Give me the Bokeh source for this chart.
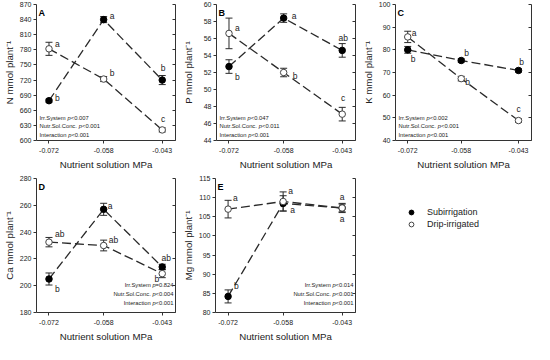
from bokeh.plotting import figure
from bokeh.models import (ColumnDataSource, Whisker, TeeHead, FixedTicker, LinearAxis,
                          Label, Legend, LegendItem, Range1d)
from bokeh.layouts import row, column
from bokeh.embed import file_html
from bokeh.resources import INLINE
from bokeh.core.properties import value

FONT = "Liberation Sans"

# ---------------- data ----------------
nutrient_mpa = [-0.072, -0.058, -0.043]
nutrient_tick_labels = ["-0.072", "-0.058", "-0.043"]
x_axis_title = "Nutrient solution MPa"
series_names = ["Subirrigation", "Drip-irrigated"]

# A: N
n_sub = [679, 840, 720]
n_sub_se = [3, 6, 9]
n_drip = [782, 722, 621]
n_drip_se = [13, 5, 4]
n_sub_letters = ["b", "a", "b"]
n_drip_letters = ["a", "b", "c"]
n_ticks = [600, 630, 660, 690, 720, 750, 780, 810, 840, 870]
n_stats = [("Irr.System ", "<0.007"), ("Nutr.Sol.Conc. ", "<0.001"), ("Interaction ", "<0.001")]

# B: P
p_sub = [52.7, 58.4, 54.6]
p_sub_se = [0.8, 0.5, 0.8]
p_drip = [56.6, 52.0, 47.1]
p_drip_se = [1.8, 0.5, 0.8]
p_sub_letters = ["b", "a", "ab"]
p_drip_letters = ["a", "b", "c"]
p_ticks = [44, 46, 48, 50, 52, 54, 56, 58, 60]
p_stats = [("Irr.System ", "<0.047"), ("Nutr.Sol.Conc. ", "<0.011"), ("Interaction ", "<0.001")]

# C: K
k_sub = [80.0, 75.3, 70.9]
k_sub_se = [1.5, 0.7, 0.7]
k_drip = [85.7, 67.3, 48.8]
k_drip_se = [2.5, 1.0, 0.8]
k_sub_letters = ["b", "b", "b"]
k_drip_letters = ["a", "b", "c"]
k_ticks = [40, 50, 60, 70, 80, 90, 100]
k_stats = [("Irr.System ", "<0.002"), ("Nutr.Sol.Conc. ", "<0.001"), ("Interaction ", "<0.001")]

# D: Ca
ca_sub = [205, 257, 214]
ca_sub_se = [4.5, 4.5, 2.0]
ca_drip = [232.5, 230, 209]
ca_drip_se = [3.5, 4.0, 3.0]
ca_sub_letters = ["b", "a", "ab"]
ca_drip_letters = ["ab", "ab", "b"]
ca_ticks = [180, 200, 220, 240, 260, 280]
ca_stats = [("Irr.System ", "=0.824"), ("Nutr.Sol.Conc. ", "<0.004"), ("Interaction ", "<0.001")]

# E: Mg
mg_sub = [84.2, 108.5, 107.3]
mg_sub_se = [1.7, 2.0, 1.0]
mg_drip = [107.0, 109.0, 107.3]
mg_drip_se = [2.3, 2.5, 1.2]
mg_sub_letters = ["b", "a", "a"]
mg_drip_letters = ["a", "a", "a"]
mg_ticks = [80, 85, 90, 95, 100, 105, 110, 115]
mg_stats = [("Irr.System ", "<0.014"), ("Nutr.Sol.Conc. ", "<0.001"), ("Interaction ", "<0.001")]

# ---------------- styles ----------------
AXIS_COLOR = "#333333"
TEXT_COLOR = "#222222"
LINE_COLOR = "#2a2a2a"
X_RANGE = (-0.0752, -0.0396)

AW = {' ': 278, '.': 278, '<': 584, '=': 584, '-': 333, 'I': 278, 'N': 722, 'S': 667,
      'C': 722, 'r': 333, 'y': 500, 's': 500, 't': 278, 'e': 556, 'm': 833, 'u': 556,
      'o': 556, 'l': 222, 'n': 556, 'c': 500, 'a': 556, 'i': 222, 'p': 556}


def tw(s, fs):
    return sum(AW.get(ch, 556) for ch in s) * fs / 1000.0


STAT_FS = 5.8

# letter label offsets (dx, dy screen px, dy positive = down), align
panels = [
    dict(tag="A", ylabel="N mmol plant\u207b\u00b9", yr=(600, 870), ticks=n_ticks,
         sub=n_sub, sub_se=n_sub_se, drip=n_drip, drip_se=n_drip_se,
         sub_let=n_sub_letters, drip_let=n_drip_letters, stats=n_stats, stats_side="left",
         sub_off=[(6, -3, "left"), (6, -4, "left"), (1, -12, "center")],
         drip_off=[(6, -5, "left"), (6, -6, "left"), (1, -11, "center")],
         width=179, bl=30, br=4, label_standoff=2, top=True),
    dict(tag="B", ylabel="P mmol plant\u207b\u00b9", yr=(44, 60), ticks=p_ticks,
         sub=p_sub, sub_se=p_sub_se, drip=p_drip, drip_se=p_drip_se,
         sub_let=p_sub_letters, drip_let=p_drip_letters, stats=p_stats, stats_side="left",
         sub_off=[(6, 10, "left"), (8, -2, "left"), (1, -12, "center")],
         drip_off=[(6, -5, "left"), (9, 3, "left"), (1, -16, "center")],
         width=180, bl=30, br=4, label_standoff=7, top=True),
    dict(tag="C", ylabel="K mmol plant\u207b\u00b9", yr=(40, 100), ticks=k_ticks,
         sub=k_sub, sub_se=k_sub_se, drip=k_drip, drip_se=k_drip_se,
         sub_let=k_sub_letters, drip_let=k_drip_letters, stats=k_stats, stats_side="left",
         sub_off=[(3, 9, "left"), (3, -7, "left"), (3, -8, "center")],
         drip_off=[(4, -4, "left"), (4, 3, "left"), (0, -12, "center")],
         width=175, bl=31, br=3, label_standoff=2, top=True),
    dict(tag="D", ylabel="Ca mmol plant\u207b\u00b9", yr=(180, 280), ticks=ca_ticks,
         sub=ca_sub, sub_se=ca_sub_se, drip=ca_drip, drip_se=ca_drip_se,
         sub_let=ca_sub_letters, drip_let=ca_drip_letters, stats=ca_stats, stats_side="right",
         sub_off=[(6, 10, "left"), (4, -3, "left"), (4, -9, "center")],
         drip_off=[(6, -8, "left"), (5, -6, "left"), (-3, 5, "right")],
         width=179, bl=30, br=4, label_standoff=2, top=False),
    dict(tag="E", ylabel="Mg mmol plant\u207b\u00b9", yr=(80, 115), ticks=mg_ticks,
         sub=mg_sub, sub_se=mg_sub_se, drip=mg_drip, drip_se=mg_drip_se,
         sub_let=mg_sub_letters, drip_let=mg_drip_letters, stats=mg_stats, stats_side="right",
         sub_off=[(6, -10, "left"), (7, 7, "left"), (0, 11, "center")],
         drip_off=[(5, -11, "left"), (5, -10, "left"), (0, -11, "center")],
         width=180, bl=30, br=4, label_standoff=2, top=False),
]

ROW_H = 172


def make_panel(cfg):
    top = cfg["top"]
    p = figure(width=cfg["width"], height=ROW_H, x_range=Range1d(*X_RANGE),
               y_range=Range1d(*cfg["yr"]), output_backend="svg", toolbar_location=None,
               min_border_left=cfg["bl"], min_border_right=cfg["br"],
               min_border_top=4 if top else 6, min_border_bottom=28)
    p.outline_line_color = None
    p.grid.visible = False
    p.background_fill_color = "white"
    p.border_fill_color = "white"

    xa = p.xaxis[0]
    xa.ticker = FixedTicker(ticks=nutrient_mpa)
    xa.major_label_overrides = dict(zip(nutrient_mpa, nutrient_tick_labels))
    xa.axis_label = x_axis_title
    ya = p.yaxis[0]
    ya.ticker = FixedTicker(ticks=cfg["ticks"])
    ya.axis_label = cfg["ylabel"]
    for ax in (xa, ya):
        ax.minor_tick_line_color = None
        ax.major_tick_in = 0
        ax.major_tick_out = 3
        ax.axis_line_color = AXIS_COLOR
        ax.major_tick_line_color = AXIS_COLOR
        ax.major_label_text_font = FONT
        ax.major_label_text_font_size = "7px"
        ax.major_label_text_color = TEXT_COLOR
        ax.axis_label_text_font = FONT
        ax.axis_label_text_font_size = "9.7px"
        ax.axis_label_text_font_style = "normal"
        ax.axis_label_text_color = TEXT_COLOR
    xa.major_label_standoff = 4
    xa.axis_label_standoff = 3
    ya.major_label_standoff = 2
    ya.axis_label_standoff = cfg["label_standoff"]

    ra = LinearAxis(ticker=FixedTicker(ticks=cfg["ticks"]),
                    major_label_overrides={t: "" for t in cfg["ticks"]})
    ra.minor_tick_line_color = None
    ra.major_tick_in = 3
    ra.major_tick_out = 0
    ra.major_label_standoff = 0
    ra.axis_line_color = AXIS_COLOR
    ra.major_tick_line_color = AXIS_COLOR
    ra.major_label_text_font_size = "1px"
    p.add_layout(ra, "right")

    for key, fill, lcol in (("sub", "black", "black"), ("drip", "white", "#444444")):
        ys = cfg[key]
        se = cfg[key + "_se"]
        src = ColumnDataSource(dict(x=nutrient_mpa, y=ys,
                                    lo=[a - b for a, b in zip(ys, se)],
                                    hi=[a + b for a, b in zip(ys, se)]))
        p.line("x", "y", source=src, line_dash="9 4", line_color=LINE_COLOR, line_width=1.3)
        w = Whisker(source=src, base="x", lower="lo", upper="hi", line_color=LINE_COLOR,
                    line_width=1,
                    upper_head=TeeHead(size=7, line_color=LINE_COLOR, line_width=1),
                    lower_head=TeeHead(size=7, line_color=LINE_COLOR, line_width=1))
        p.add_layout(w)
        p.scatter("x", "y", source=src, marker="circle", size=6.5, fill_color=fill,
                  line_color=lcol, line_width=1)

        # significance letters
        lets = cfg[key + "_let"]
        offs = cfg[key + "_off"]
        for align in ("left", "center", "right"):
            idx = [i for i in range(3) if offs[i][2] == align]
            if not idx:
                continue
            lsrc = ColumnDataSource(dict(x=[nutrient_mpa[i] for i in idx],
                                         y=[ys[i] for i in idx],
                                         t=[lets[i] for i in idx],
                                         dx=[offs[i][0] for i in idx],
                                         dy=[offs[i][1] for i in idx]))
            p.text("x", "y", text="t", source=lsrc, x_offset="dx", y_offset="dy",
                   text_align=align, text_baseline="middle", text_font=value(FONT),
                   text_font_size="8.5px", text_color=TEXT_COLOR)

    # panel tag
    p.add_layout(Label(x=X_RANGE[0], y=cfg["yr"][1], x_offset=2, y_offset=-8, text=cfg["tag"],
                       text_font=FONT, text_font_size="9px", text_font_style="bold",
                       text_baseline="middle", text_align="left", text_color="black"))

    # statistics block
    if cfg["stats_side"] == "left":
        ys_off = [23, 15, 6]
        for (pre, suf), yo in zip(cfg["stats"], ys_off):
            x0 = 3
            parts = [(pre, "normal", x0), ("p", "italic", x0 + tw(pre, STAT_FS)),
                     (suf, "normal", x0 + tw(pre, STAT_FS) + tw("p", STAT_FS))]
            for txt, style, xo in parts:
                p.add_layout(Label(x=X_RANGE[0], y=cfg["yr"][0], x_offset=xo, y_offset=yo,
                                   text=txt, text_font=FONT, text_font_size=f"{STAT_FS}px",
                                   text_font_style=style, text_align="left",
                                   text_baseline="middle", text_color=TEXT_COLOR))
    else:
        ys_off = [28, 19, 10]
        for (pre, suf), yo in zip(cfg["stats"], ys_off):
            x0 = -2
            parts = [(suf, "normal", x0), ("p", "italic", x0 - tw(suf, STAT_FS)),
                     (pre.rstrip(), "normal", x0 - tw(suf, STAT_FS) - tw("p", STAT_FS) - tw(" ", STAT_FS))]
            for txt, style, xo in parts:
                p.add_layout(Label(x=X_RANGE[1], y=cfg["yr"][0], x_offset=xo, y_offset=yo,
                                   text=txt, text_font=FONT, text_font_size=f"{STAT_FS}px",
                                   text_font_style=style, text_align="right",
                                   text_baseline="middle", text_color=TEXT_COLOR))
    return p


figs = [make_panel(c) for c in panels]

# legend panel (borders match the neighbouring panels so the row stays aligned)
lg = figure(width=175, height=ROW_H, x_range=Range1d(0, 1), y_range=Range1d(0, 1),
            output_backend="svg", toolbar_location=None, x_axis_location=None,
            y_axis_location=None, min_border_left=18, min_border_top=6,
            min_border_right=0, min_border_bottom=28)
lg.outline_line_color = None
lg.grid.visible = False
nan = float("nan")
r1 = lg.scatter(x=[nan], y=[nan], marker="circle", size=4, fill_color="black",
                line_color="black")
r2 = lg.scatter(x=[nan], y=[nan], marker="circle", size=4, fill_color="white",
                line_color="#444444")
legend = Legend(items=[LegendItem(label=series_names[0], renderers=[r1]),
                       LegendItem(label=series_names[1], renderers=[r2])],
                location="top_left", padding=0, margin=28, glyph_width=12, glyph_height=12,
                label_standoff=10, spacing=0, border_line_color=None,
                background_fill_alpha=0, label_text_font=FONT, label_text_font_size="9px",
                label_text_color=TEXT_COLOR, label_height=12)
lg.add_layout(legend)

layout = column(row(figs[0], figs[1], figs[2]), row(figs[3], figs[4], lg))
open("out.html", "w").write(file_html(layout, INLINE))
